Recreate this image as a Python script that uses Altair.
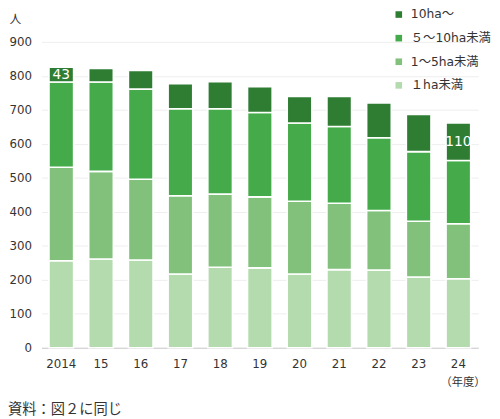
import altair as alt
import pandas as pd

years = ["2014", "15", "16", "17", "18", "19", "20", "21", "22", "23", "24"]
cats = ["10ha～", "５～10ha未満", "1～5ha未満", "１ha未満"]
colors = ["#2f7d33", "#45ab4a", "#82c17b", "#b4dbae"]
ha_lt1 = [256, 261, 258, 217, 237, 235, 217, 230, 229, 208, 203]
ha_1_5 = [275, 258, 238, 230, 215, 209, 214, 195, 175, 164, 162]
ha_5_10 = [251, 263, 265, 256, 251, 248, 230, 226, 214, 205, 186]
ha_10 = [43, 40, 55, 74, 80, 76, 78, 88, 102, 109, 110]
label_years = ["2014", "24"]
y_ticks = [0, 100, 200, 300, 400, 500, 600, 700, 800, 900]

series = {cats[3]: ha_lt1, cats[2]: ha_1_5, cats[1]: ha_5_10, cats[0]: ha_10}
rows = []
for i, y in enumerate(years):
    base = 0
    for rank, c in enumerate([cats[3], cats[2], cats[1], cats[0]]):
        v = series[c][i]
        rows.append({"year": y, "cat": c, "value": v, "rank": rank,
                     "mid": base + v / 2,
                     "label": str(v) if (c == cats[0] and y in label_years) else ""})
        base += v
df = pd.DataFrame(rows)

FONT = "DejaVu Sans, Verdana, Noto Sans CJK JP"

yaxis = alt.Axis(values=y_ticks, title="人",
                 titleAngle=0, titleX=-27, titleY=-24,
                 titleAlign="center", titleBaseline="middle",
                 titleFontSize=12, titleFontWeight="normal",
                 titleColor="#333333",
                 labelFontSize=12, labelColor="#333333",
                 labelPadding=10, labelOverlap=False,
                 ticks=False, domain=False,
                 gridColor="#eeeeee", gridWidth=1)
yscale = alt.Scale(domain=[0, 900], nice=False)

x = alt.X("year:N", sort=years,
          scale=alt.Scale(paddingInner=0.38, paddingOuter=0.19),
          axis=alt.Axis(title="（年度）", labelAngle=0, labelFontSize=12,
                        labelColor="#333333", labelPadding=11, ticks=False,
                        domainColor="#cccccc", domainWidth=1.2,
                        titleFontSize=11.5, titleFontWeight="normal",
                        titleColor="#333333", titleX=428, titleY=35,
                        titleAlign="center", titleBaseline="middle"))

bars = alt.Chart(df).mark_bar(stroke="white", strokeWidth=1.6).encode(
    x=x,
    y=alt.Y("value:Q", stack="zero", scale=yscale, axis=yaxis),
    color=alt.Color("cat:N", scale=alt.Scale(domain=cats, range=colors),
                    legend=alt.Legend(title=None, orient="none",
                                      legendX=357, legendY=-34,
                                      symbolType="square", symbolSize=45,
                                      symbolStrokeWidth=0,
                                      labelFontSize=12.5, labelColor="#333333",
                                      rowPadding=11, labelOffset=6)),
    order=alt.Order("rank:Q", sort="ascending"),
)

labels = alt.Chart(df).transform_filter(alt.datum.label != "").mark_text(
    color="white", fontSize=14, baseline="middle", align="center", font=FONT
).encode(
    x=alt.X("year:N", sort=years),
    y=alt.Y("mid:Q", scale=yscale, axis=yaxis),
    text="label:N",
)

chart = alt.layer(bars, labels).properties(
    width=444, height=311,
    padding={"left": 34, "top": 31, "right": 14, "bottom": 69},
    autosize=alt.AutoSizeParams(type="none"),
    title=alt.Title("資料：図２に同じ", orient="bottom", anchor="start",
                    frame="group", dx=-34, offset=16, fontSize=14.5,
                    fontWeight="normal", color="#333333", font=FONT),
).configure(font=FONT).configure_view(stroke=None)

chart.save("out.html", embed_options={"renderer": "svg", "actions": False})
